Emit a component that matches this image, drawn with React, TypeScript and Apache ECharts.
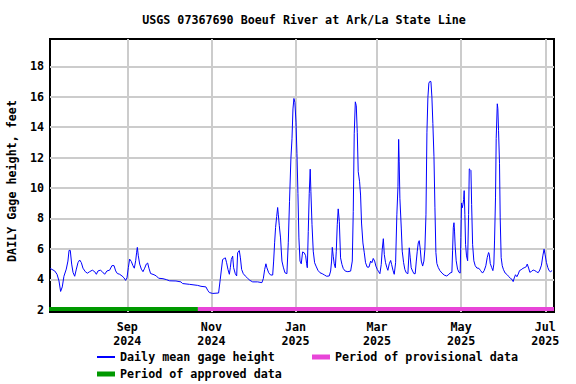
import React, { useEffect, useRef } from "react";
import * as echarts from "echarts";

const TITLE = "USGS 07367690 Boeuf River at Ark/La State Line";
const Y_NAME = "DAILY Gage height, feet";
const SERIES_NAME = "Daily mean gage height";
const PROVISIONAL_NAME = "Period of provisional data";
const APPROVED_NAME = "Period of approved data";

// Period start (day 0) = 2024-07-07; axis spans ~365 days
const PERIOD_START = { year: 2024, month: 6, day: 7 };
const AXIS_SPAN_DAYS = 365.3;
const APPROVED_END_DAY = 107.2; // ~2024-10-22
const PERIOD_BAR_LEVEL = 2.05;

const yTicks = [2, 4, 6, 8, 10, 12, 14, 16, 18];
const monthTicks = [
  [2024, 8], [2024, 10], [2025, 0], [2025, 2], [2025, 4], [2025, 6],
];
const monthNames = ["Jan", "Feb", "Mar", "Apr", "May", "Jun", "Jul", "Aug", "Sep", "Oct", "Nov", "Dec"];

// [day since period start, gage height in feet]
const julSep: number[][] = [
  [0, 4.72], [3.4, 4.55], [5.1, 4.33], [6.5, 3.9], [7.7, 3.2], [8.9, 3.5], [10.1, 4.2], [11.8, 4.67],
  [13.0, 5.2], [13.8, 5.9], [14.7, 5.9], [15.7, 5.0], [16.7, 4.45], [17.9, 4.2], [19.1, 4.67], [20.3, 5.1],
  [21.5, 5.27], [22.7, 5.1], [23.9, 4.73], [25.6, 4.5], [27.1, 4.4], [28.7, 4.5], [30.7, 4.6], [32.4, 4.5],
  [33.6, 4.33], [34.8, 4.55], [36.5, 4.6], [37.9, 4.5], [39.6, 4.33], [41.3, 4.55], [43.2, 4.6], [44.9, 4.9],
  [46.4, 4.9], [47.6, 4.55], [48.8, 4.38], [50.5, 4.33], [52.2, 4.22], [53.6, 4.1], [54.8, 3.93], [55.8, 4.1],
  [56.8, 4.78], [57.7, 5.33], [58.9, 5.18], [60.1, 4.9], [61.1, 4.73], [62.1, 5.22], [62.8, 5.78], [63.3, 6.1],
  [64.0, 5.55], [65.0, 5.0], [66.2, 4.67], [67.4, 4.5], [68.6, 4.73], [69.8, 5.0], [70.8, 5.07], [71.7, 4.73],
  [72.9, 4.38], [75.4, 4.3], [77.1, 4.22], [78.7, 4.07], [81.9, 4.04], [84.3, 3.98], [86.7, 3.9],
];
const octDec: number[][] = [
  [91.3, 3.89], [94.9, 3.83], [96.1, 3.72], [101, 3.67], [107, 3.6], [109.4, 3.54], [113, 3.5], [114.3, 3.28],
  [115.5, 3.13], [117.9, 3.07], [122.2, 3.1], [123.4, 4.0], [125.1, 5.3], [126.3, 5.37], [127.1, 5.41], [128, 5.09],
  [129, 4.65], [130, 4.33], [130.7, 4.76], [131.4, 5.3], [132.4, 5.52], [133.1, 4.76], [134.3, 4.37], [135.3, 4.22],
  [136, 5.74], [137.2, 5.89], [138, 5.41], [138.9, 4.65], [140.1, 4.37], [141.5, 4.22], [143.2, 4.07], [144.9, 3.93],
  [146.9, 3.83], [150.5, 3.83], [153.6, 3.78], [154.6, 4.04], [155.6, 4.65], [156.5, 5.02], [157.2, 4.76], [158.5, 4.43],
  [159.9, 4.28], [161.4, 4.28], [162.1, 5.2], [162.8, 6.4], [163.5, 7.41], [164.3, 8.13], [165, 8.72], [165.5, 8.24],
  [166.2, 7.52], [167.1, 6.72], [168.1, 5.2], [169.1, 4.8], [170.3, 4.43], [171.7, 4.37], [172.7, 6.4], [173.6, 9.1],
  [174.6, 11.93], [175.4, 13.24], [176.1, 15.2], [176.8, 15.89], [177.5, 15.63], [178.3, 14.33], [179, 12.26], [179.7, 9.65],
  [180.4, 6.72], [181.2, 5.2], [182.1, 5.02], [183.1, 5.8], [184.3, 5.74], [185.3, 5.55], [186, 5.02], [186.5, 4.76],
];
const janMar: number[][] = [
  [187.2, 7.15], [187.9, 9.65], [188.6, 11.24], [189.1, 9.76], [189.9, 7.59], [190.8, 5.85], [191.8, 5.09], [192.8, 4.87],
  [194.2, 4.59], [195.7, 4.43], [197.3, 4.37], [199, 4.28], [200.5, 4.2], [202.4, 4.22], [203.4, 4.54], [204.1, 5.2],
  [204.6, 6.1], [205.3, 5.52], [206, 5.02], [206.8, 4.76], [207.5, 5.85], [208.2, 7.59], [208.9, 8.63], [209.7, 7.8],
  [210.6, 5.41], [211.6, 4.98], [212.6, 4.7], [214, 4.54], [215.9, 4.5], [217.9, 4.54], [219.1, 5.2], [219.8, 8.46],
  [220.5, 13.57], [221.3, 15.67], [222, 15.41], [222.7, 13.67], [223.4, 11.07], [224.4, 10.41], [225.1, 9.54], [225.8, 7.7],
  [226.8, 6.39], [227.8, 5.74], [228.7, 5.09], [229.9, 4.8], [231.2, 4.8], [232.4, 5.2], [233.3, 5.09], [234.3, 5.37],
  [235.3, 5.2], [236.2, 4.87], [237.2, 4.65], [238.2, 4.5], [239.1, 4.37], [240.1, 4.98], [240.8, 5.96], [241.6, 6.67],
  [242.3, 5.63], [243.2, 5.09], [244.2, 4.76], [244.9, 4.59], [245.9, 5.02], [246.9, 5.24], [247.6, 4.98], [248.6, 4.59],
  [249.5, 4.33], [250.5, 5.09], [251.4, 8.24], [252.2, 10.09], [252.7, 13.2], [253.1, 11.72], [253.6, 9.33], [254.6, 7.37],
  [255.3, 5.85], [256.3, 5.09], [257.2, 4.65], [258.2, 4.43], [259.4, 4.37], [260.4, 6.07], [261.1, 5.41], [261.8, 4.76],
  [262.8, 4.54], [263.8, 4.37], [264.7, 4.37], [265.5, 5.2], [266.2, 5.85], [266.9, 6.39], [267.6, 6.54], [268.4, 5.96],
  [269.1, 5.2], [270.1, 4.87], [271, 5.2], [271.7, 5.96], [272.5, 8.24], [273.2, 13.67], [273.9, 15.96], [274.6, 16.9],
  [275.4, 17.02], [276.1, 17.0], [276.8, 15.98], [277.5, 14.24], [278.3, 12.07],
];
const aprJul: number[][] = [
  [279, 8.7], [279.7, 5.76], [280.4, 5.04], [281.4, 4.78], [282.6, 4.57], [284.1, 4.41], [285.7, 4.28], [287.4, 4.22],
  [288.6, 4.28], [289.9, 4.41], [291.3, 4.46], [291.8, 5.87], [292.3, 7.39], [292.8, 7.72], [293.2, 7.17], [293.7, 6.13],
  [294.4, 5.22], [295.4, 4.67], [296.4, 4.46], [297.3, 4.41], [297.8, 6.74], [298.3, 9.02], [298.8, 8.7], [299.3, 8.91],
  [299.8, 9.24], [300.2, 9.83], [300.7, 8.26], [301.2, 6.3], [301.9, 5.54], [302.7, 5.22], [303.4, 8.26], [303.9, 11.26],
  [304.6, 11.2], [305.1, 11.15], [305.6, 8.91], [306.3, 6.3], [307.2, 5.22], [308.2, 4.89], [309.4, 4.74], [310.9, 4.72],
  [312.1, 4.57], [313.5, 4.41], [314.7, 4.57], [315.9, 4.89], [316.9, 5.43], [317.9, 5.76], [318.4, 5.65], [319.1, 5.04],
  [320.1, 4.78], [321, 4.57], [321.7, 5.0], [322.2, 6.52], [322.9, 9.35], [323.4, 13.26], [324.2, 15.54], [324.6, 15.22],
  [325.1, 13.8], [325.8, 11.63], [326.3, 8.04], [327, 5.43], [327.8, 4.89], [328.7, 4.63], [329.9, 4.41], [331.4, 4.3],
  [332.6, 4.17], [334, 4.04], [335, 3.98], [335.7, 3.85], [336.5, 4.09], [337.4, 4.3], [338.4, 4.17], [339.4, 4.35],
  [340.3, 4.57], [341.5, 4.63], [342.8, 4.72], [344.2, 4.78], [345.2, 4.83], [345.9, 5.0], [346.9, 4.74], [347.8, 4.46],
  [349, 4.52], [350.2, 4.61], [351.4, 4.57], [352.6, 4.5], [353.8, 4.43], [355, 4.61], [356.2, 4.93], [357.2, 5.54],
  [358.1, 5.98], [358.8, 5.65], [359.8, 5.11], [360.8, 4.78], [361.7, 4.57], [362.7, 4.5], [363.9, 4.57],
];

const DAY_MS = 86400000;
const FONT = "'DejaVu Sans Mono', monospace";
const FONT_SIZE = 11.7;

export default function App() {
  const ref = useRef<HTMLDivElement>(null);

  useEffect(() => {
    document.body.style.margin = "0";
    if (!ref.current) return;
    const chart = echarts.init(ref.current, undefined, { renderer: "svg" });

    const start = new Date(PERIOD_START.year, PERIOD_START.month, PERIOD_START.day).getTime();
    const toTime = (d: number) => start + d * DAY_MS;
    const gage = [...julSep, ...octDec, ...janMar, ...aprJul].map(([d, v]) => [toTime(d), v]);
    const axisMax = toTime(AXIS_SPAN_DAYS);
    const tickTimes = monthTicks.map(([y, m]) => new Date(y, m, 1).getTime());

    const textBase = { fontFamily: FONT, fontWeight: "bold" as const, fontSize: FONT_SIZE, color: "#000" };
    const legendBase = { itemWidth: 18, selectedMode: false, padding: 0, textStyle: { ...textBase } };

    chart.setOption({
      animation: false,
      backgroundColor: "#fff",
      grid: {
        left: 50, right: 22, top: 39, bottom: 72,
        show: true, borderColor: "#000", borderWidth: 2, backgroundColor: "transparent",
      },
      graphic: [
        {
          type: "text", x: 304, y: 20,
          style: { text: TITLE, fill: "#000", font: `bold ${FONT_SIZE}px ${FONT}`, textAlign: "center", textVerticalAlign: "middle" },
        },
        {
          type: "text", x: 12, y: 181, rotation: Math.PI / 2,
          style: { text: Y_NAME, fill: "#000", font: `bold ${FONT_SIZE}px ${FONT}`, textAlign: "center", textVerticalAlign: "middle" },
        },
      ],
      xAxis: {
        type: "value",
        min: start,
        max: axisMax,
        axisLine: { show: false },
        axisTick: { show: false, customValues: tickTimes },
        axisLabel: {
          customValues: tickTimes,
          formatter: (v: number) => {
            const d = new Date(v);
            return `${monthNames[d.getMonth()]}\n${d.getFullYear()}`;
          },
          ...textBase,
          lineHeight: 14,
          margin: 8,
        },
        splitLine: { show: true, lineStyle: { color: "#cccccc", width: 2 } },
      },
      yAxis: {
        type: "value",
        min: 1.85,
        max: 19.8,
        axisLine: { show: false },
        axisTick: { show: false, customValues: yTicks },
        axisLabel: { customValues: yTicks, ...textBase, margin: 6 },
        splitLine: { show: true, lineStyle: { color: "#cccccc", width: 2 } },
      },
      legend: [
        { ...legendBase, data: [{ name: SERIES_NAME, icon: "rect" }], left: 97, top: 351, itemHeight: 2 },
        { ...legendBase, data: [{ name: PROVISIONAL_NAME, icon: "rect" }], left: 312, top: 351, itemHeight: 5 },
        { ...legendBase, data: [{ name: APPROVED_NAME, icon: "rect" }], left: 97, top: 368, itemHeight: 5 },
      ],
      series: [
        {
          name: APPROVED_NAME, type: "line", symbol: "none", z: 2,
          data: [[toTime(-0.7), PERIOD_BAR_LEVEL], [toTime(APPROVED_END_DAY), PERIOD_BAR_LEVEL]],
          lineStyle: { color: "#009900", width: 4 }, itemStyle: { color: "#009900" },
          clip: false,
        },
        {
          name: PROVISIONAL_NAME, type: "line", symbol: "none", z: 2,
          data: [[toTime(APPROVED_END_DAY), PERIOD_BAR_LEVEL], [axisMax, PERIOD_BAR_LEVEL]],
          lineStyle: { color: "#e845d8", width: 4 }, itemStyle: { color: "#e845d8" },
        },
        {
          name: SERIES_NAME, type: "line", symbol: "none", z: 3,
          data: gage,
          lineStyle: { color: "#0000ff", width: 1 }, itemStyle: { color: "#0000ff" },
        },
      ],
    });

    return () => chart.dispose();
  }, []);

  return <div ref={ref} style={{ width: 576, height: 384 }} />;
}
